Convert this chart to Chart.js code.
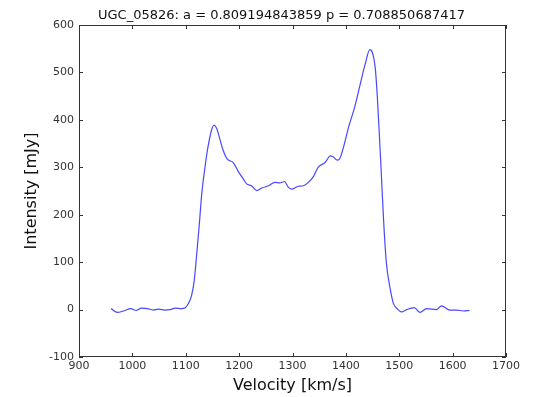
<!DOCTYPE html>
<html>
<head>
  <meta charset="UTF-8">
  <title>UGC_05826 profile</title>
  <script src="https://cdn.jsdelivr.net/npm/chart.js@4"></script>
  <style>
    body { margin: 0; background: #fff; }
    #wrap { width: 543px; height: 397px; position: relative; }
  </style>
</head>
<body>
<div id="wrap"><canvas id="chart"></canvas></div>
<script>
const titleText = "UGC_05826: a = 0.809194843859 p = 0.708850687417";
const xTicks = [900, 1000, 1100, 1200, 1300, 1400, 1500, 1600, 1700];
const yTicks = [-100, 0, 100, 200, 300, 400, 500, 600];

// velocity [km/s] and intensity [mJy]
const velocity = [960, 972, 983, 997, 1007, 1017, 1028, 1039, 1049, 1061, 1071, 1080, 1092, 1099,
  1105, 1111, 1116, 1120, 1125, 1130, 1136, 1142, 1148, 1153, 1158, 1164, 1170, 1178, 1189,
  1198, 1208, 1214, 1223, 1233, 1242, 1255, 1267, 1276, 1285, 1292, 1298, 1311, 1320, 1333,
  1340, 1348, 1361, 1371, 1376, 1384, 1389, 1395, 1405, 1417, 1426, 1436, 1445, 1450, 1455,
  1459, 1463, 1467, 1471, 1476, 1483, 1489, 1496, 1504, 1514, 1528, 1539, 1551, 1570, 1579,
  1595, 1608, 1620, 1632];
const intensity = [2, -6, -3, 2, -2, 3, 2, -1, 1, -1, 0, 3, 2, 4,
  13, 30, 62, 110, 174, 244, 300, 345, 377, 389, 382, 359, 336, 317, 310,
  292, 275, 265, 261, 251, 256, 261, 268, 267, 270, 258, 254, 260, 261, 272,
  282, 300, 310, 324, 322, 315, 319, 340, 384, 429, 471, 517, 548, 541, 510,
  447, 363, 272, 181, 97, 44, 13, 2, -5, 0, 4, -6, 2, 0, 8,
  -1, -1, -3, -2];

const points = velocity.map((v, i) => ({ x: v, y: intensity[i] }));

// matplotlib style frame with inward ticks on all four sides, plus the title
const framePlugin = {
  id: 'frame',
  afterDraw(chart) {
    const { ctx, chartArea: a, scales } = chart;
    ctx.save();
    ctx.strokeStyle = '#333';
    ctx.lineWidth = 1;
    ctx.strokeRect(a.left + 0.5, a.top + 0.5, a.right - a.left - 1, a.bottom - a.top - 1);
    ctx.beginPath();
    xTicks.forEach(t => {
      const px = Math.round(scales.x.getPixelForValue(t)) + 0.5;
      ctx.moveTo(px, a.bottom); ctx.lineTo(px, a.bottom - 4);
      ctx.moveTo(px, a.top); ctx.lineTo(px, a.top + 4);
    });
    yTicks.forEach(t => {
      const py = Math.round(scales.y.getPixelForValue(t)) + 0.5;
      ctx.moveTo(a.left, py); ctx.lineTo(a.left + 4, py);
      ctx.moveTo(a.right, py); ctx.lineTo(a.right - 4, py);
    });
    ctx.stroke();

    ctx.fillStyle = '#111';
    ctx.font = '13px "DejaVu Sans"';
    ctx.textAlign = 'center';
    ctx.textBaseline = 'alphabetic';
    ctx.fillText(titleText, (a.left + a.right) / 2 - 11, a.top - 6);
    ctx.restore();
  }
};

new Chart(document.getElementById('chart'), {
  type: 'line',
  data: {
    datasets: [{
      data: points,
      borderColor: 'rgba(40, 40, 255, 0.85)',
      borderWidth: 1.2,
      pointRadius: 0,
      cubicInterpolationMode: 'monotone',
      fill: false
    }]
  },
  options: {
    responsive: true,
    maintainAspectRatio: false,
    animation: false,
    layout: { padding: { left: 0, right: 37, top: 25, bottom: 0 } },
    plugins: {
      legend: { display: false },
      tooltip: { enabled: false },
      title: { display: false }
    },
    scales: {
      x: {
        type: 'linear',
        min: 900, max: 1700,
        afterBuildTicks: s => { s.ticks = xTicks.map(v => ({ value: v })); },
        afterFit: s => { s.height = 40; },
        grid: { display: false, drawTicks: false },
        border: { display: false },
        ticks: {
          color: '#333', font: { family: 'DejaVu Sans', size: 11 }, padding: 3, maxRotation: 0,
          callback: v => String(v)
        },
        title: {
          display: true, text: 'Velocity [km/s]', color: '#111',
          font: { family: 'DejaVu Sans', size: 16 }, padding: { top: 0, bottom: 2 }
        }
      },
      y: {
        min: -100, max: 600,
        afterBuildTicks: s => { s.ticks = yTicks.map(v => ({ value: v })); },
        afterFit: s => { s.width = 79; },
        grid: { display: false, drawTicks: false },
        border: { display: false },
        ticks: {
          color: '#333', font: { family: 'DejaVu Sans', size: 11 }, padding: 5,
          callback: v => String(v)
        },
        title: {
          display: true, text: 'Intensity [mJy]', color: '#111',
          font: { family: 'DejaVu Sans', size: 16 }, padding: { top: 22, bottom: 0 }
        }
      }
    }
  },
  plugins: [framePlugin]
});
</script>
</body>
</html>
